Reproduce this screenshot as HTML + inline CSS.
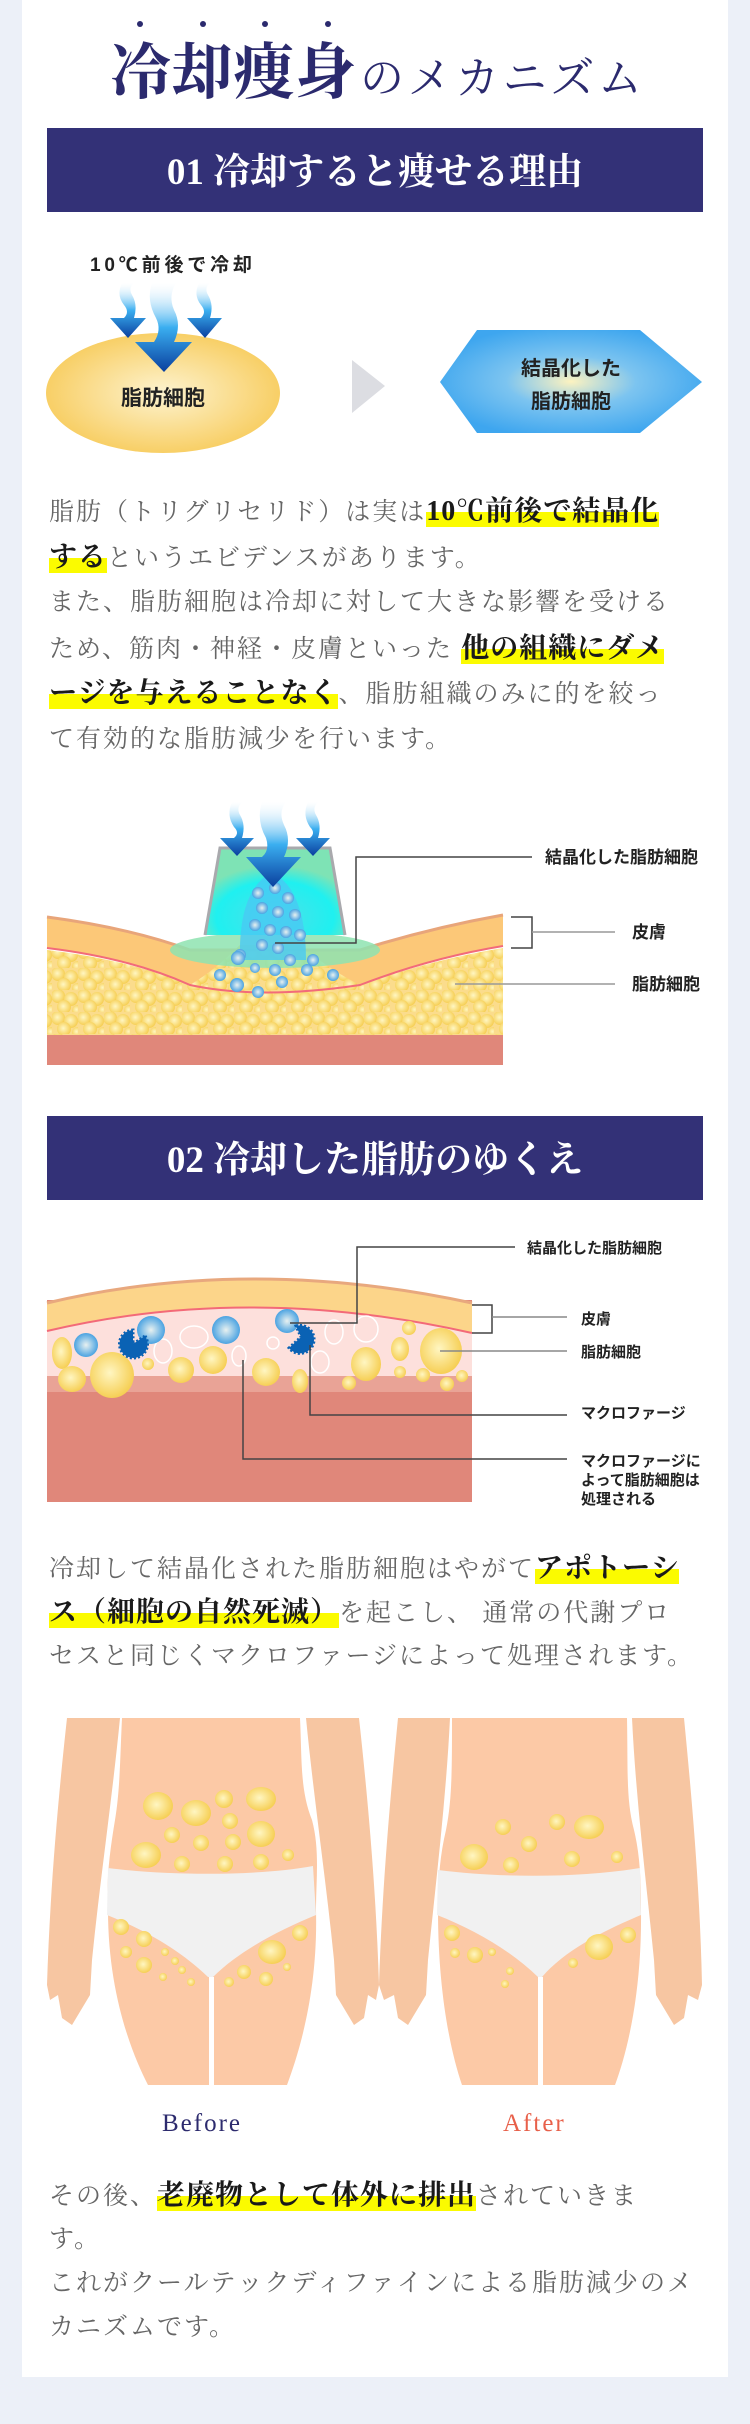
<!DOCTYPE html>
<html><head><meta charset="utf-8">
<style>
*{margin:0;padding:0;box-sizing:border-box}
html,body{width:750px;height:2424px;background:#ecf0f8;overflow:hidden}
#card{position:absolute;left:22px;top:0;width:706px;height:2377px;background:#fff}
svg{position:absolute;left:0;top:0}
.p{position:absolute;left:49px;font-family:"Liberation Serif","Noto Serif CJK JP","Noto Serif CJK SC",serif;color:#666;white-space:nowrap;font-size:25px;letter-spacing:2px}
.p div{height:45.5px;line-height:45.5px}
.h{font-weight:bold;color:#1a1a1a;font-size:28px;letter-spacing:1px;background:linear-gradient(transparent 52%,#fbfb00 52%)}
</style></head><body>
<div id="card"></div>
<svg width="750" height="2424" viewBox="0 0 750 2424" xmlns="http://www.w3.org/2000/svg">
<defs>
<radialGradient id="ell" cx="50%" cy="50%" r="50%"><stop offset="0" stop-color="#fdf3cf"/><stop offset="1" stop-color="#f8cf66"/></radialGradient>
<radialGradient id="hex" cx="50%" cy="50%" r="55%"><stop offset="0" stop-color="#fdf3c0"/><stop offset="0.45" stop-color="#7cc4f0"/><stop offset="1" stop-color="#3ea6ef"/></radialGradient>
<linearGradient id="arr" x1="0" y1="0" x2="0" y2="1"><stop offset="0" stop-color="#ffffff" stop-opacity="0.2"/><stop offset="0.5" stop-color="#3aaef0"/><stop offset="1" stop-color="#0a3f9e"/></linearGradient>
<radialGradient id="yb" cx="45%" cy="45%" r="55%"><stop offset="0" stop-color="#fff6c2"/><stop offset="1" stop-color="#f6cf55"/></radialGradient>
<radialGradient id="bb" cx="50%" cy="50%" r="55%"><stop offset="0" stop-color="#e8f1f0"/><stop offset="1" stop-color="#3b9be0"/></radialGradient>
<pattern id="fat" width="26" height="22" patternUnits="userSpaceOnUse">
<rect width="26" height="22" fill="#fbdc8c"/>
<circle cx="6" cy="6" r="7" fill="url(#yb)"/><circle cx="19" cy="9" r="7" fill="url(#yb)"/><circle cx="12" cy="17" r="7" fill="url(#yb)"/><circle cx="25" cy="20" r="5" fill="url(#yb)"/>
</pattern>
<radialGradient id="cup" cx="50%" cy="80%" r="60%"><stop offset="0" stop-color="#4fe0e8"/><stop offset="0.7" stop-color="#1ff0f0"/><stop offset="1" stop-color="#7ee3b5"/></radialGradient>
</defs>

<!-- Title -->
<g fill="#2b2a6e">
<circle cx="140" cy="24" r="3"/><circle cx="203" cy="24" r="3"/><circle cx="265" cy="24" r="3"/><circle cx="328" cy="24" r="3"/>
</g>
<text x="110" y="93" font-family="'Liberation Serif','Noto Serif CJK JP',serif" font-weight="bold" font-size="61" fill="#2b2a6e" textLength="246">冷却痩身</text>
<text x="360" y="93" font-family="'Liberation Serif','Noto Serif CJK JP',serif" font-size="44" fill="#2b2a6e" textLength="282">のメカニズム</text>

<!-- Band 1 -->
<rect x="47" y="128" width="656" height="84" fill="#333177"/>
<text x="375" y="184" text-anchor="middle" font-family="'Liberation Serif','Noto Serif CJK JP',serif" font-weight="bold" font-size="37" fill="#fff">01 冷却すると痩せる理由</text>

<!-- Diagram 1 -->
<text x="90" y="271" font-family="'Liberation Sans','Noto Sans CJK JP',sans-serif" font-weight="bold" font-size="19" fill="#222" textLength="162">10℃前後で冷却</text>
<ellipse cx="163" cy="393" rx="117" ry="60" fill="url(#ell)"/>
<g fill="url(#arr)">
<path d="M122 283 Q116 295 124 305 Q130 312 124 318 L110 318 L128 338 L146 318 L134 318 Q138 305 132 295 Q128 288 134 283 Z"/>
<path d="M199 283 Q193 295 201 305 Q207 312 201 318 L187 318 L205 338 L222 318 L210 318 Q214 305 208 295 Q204 288 210 283 Z"/>
<path d="M152 283 Q146 300 156 318 Q162 330 154 342 L135 342 L164 372 L192 342 L174 342 Q182 325 174 310 Q168 296 176 283 Z"/>
</g>
<text x="163" y="405" text-anchor="middle" font-family="'Liberation Sans','Noto Sans CJK JP',sans-serif" font-weight="bold" font-size="21" fill="#222">脂肪細胞</text>
<polygon points="352,360 385,386 352,413" fill="#dcdde2"/>
<polygon points="440,382 477,330 640,330 702,382 640,433 477,433" fill="url(#hex)"/>
<text x="571" y="375" text-anchor="middle" font-family="'Liberation Sans','Noto Sans CJK JP',sans-serif" font-weight="bold" font-size="20" fill="#222">結晶化した</text>
<text x="571" y="408" text-anchor="middle" font-family="'Liberation Sans','Noto Sans CJK JP',sans-serif" font-weight="bold" font-size="20" fill="#222">脂肪細胞</text>

<!-- Diagram 2 -->
<rect x="47" y="1000" width="456" height="65" fill="#e0877a"/>
<path d="M47 950 Q130 960 190 985 Q220 965 240 945 L300 945 Q325 965 360 985 Q430 960 503 948 L503 1035 L47 1035 Z" fill="url(#fat)"/>
<path d="M47 917 Q130 928 190 950 L360 950 Q430 928 503 915 L503 946 Q430 958 360 985 Q330 970 300 945 L240 945 Q215 970 190 985 Q130 958 47 948 Z" fill="#fcc878"/>
<path d="M47 917 Q130 928 190 950 L360 950 Q430 928 503 915" fill="none" stroke="#e8a57a" stroke-width="3"/>
<path d="M47 948 Q130 958 190 985 Q260 1000 360 985 Q430 958 503 946" fill="none" stroke="#f26b7a" stroke-width="2"/>
<ellipse cx="275" cy="950" rx="105" ry="18" fill="#8ee3b0" opacity="0.85"/>
<path d="M205 935 L220 848 L330 848 L345 935 Z" fill="url(#cup)"/>
<path d="M205 935 L220 848 L330 848 L345 935" fill="none" stroke="#a9a9ad" stroke-width="3"/>
<path d="M240 960 Q238 890 272 872 Q306 890 306 960 Z" fill="#48c9f4" opacity="0.8"/>
<g fill="url(#bb)">
<circle cx="258" cy="893" r="6"/><circle cx="275" cy="888" r="6"/><circle cx="288" cy="898" r="6"/><circle cx="262" cy="908" r="6"/><circle cx="278" cy="912" r="6"/><circle cx="295" cy="915" r="6"/><circle cx="255" cy="925" r="6"/><circle cx="270" cy="930" r="6"/><circle cx="286" cy="932" r="6"/><circle cx="300" cy="935" r="6"/><circle cx="262" cy="945" r="6"/><circle cx="278" cy="948" r="6"/><circle cx="240" cy="955" r="6"/><circle cx="290" cy="960" r="6"/><circle cx="275" cy="970" r="6"/>
<circle cx="238" cy="958" r="7"/><circle cx="220" cy="975" r="6"/><circle cx="237" cy="985" r="7"/><circle cx="258" cy="992" r="6"/><circle cx="282" cy="982" r="6"/><circle cx="307" cy="970" r="6"/><circle cx="313" cy="960" r="6"/><circle cx="333" cy="975" r="6"/><circle cx="255" cy="968" r="5"/>
</g>
<g fill="url(#arr)">
<path d="M232 802 Q226 815 234 827 Q240 833 234 838 L220 838 L237 856 L254 838 L242 838 Q246 825 240 815 Q236 808 242 802 Z"/>
<path d="M308 802 Q302 815 310 827 Q316 833 310 838 L296 838 L313 856 L330 838 L318 838 Q322 825 316 815 Q312 808 318 802 Z"/>
<path d="M262 802 Q256 820 266 838 Q270 850 262 857 L246 857 L273 887 L301 857 L284 857 Q292 840 284 825 Q278 812 286 802 Z"/>
</g>
<g stroke="#444" stroke-width="1.5" fill="none">
<path d="M532 857 L356 857 L356 943 L275 943"/>
<path d="M511 917 L532 917 L532 948 L511 948"/>
</g>
<g stroke="#999" stroke-width="1.5"><line x1="532" y1="932" x2="615" y2="932"/><line x1="455" y1="984" x2="615" y2="984"/></g>
<g font-family="'Liberation Sans','Noto Sans CJK JP',sans-serif" font-weight="bold" font-size="17" fill="#222">
<text x="545" y="863">結晶化した脂肪細胞</text>
<text x="632" y="938">皮膚</text>
<text x="632" y="990">脂肪細胞</text>
</g>

<!-- Band 2 -->
<rect x="47" y="1116" width="656" height="84" fill="#333177"/>
<text x="375" y="1172" text-anchor="middle" font-family="'Liberation Serif','Noto Serif CJK JP',serif" font-weight="bold" font-size="37" fill="#fff">02 冷却した脂肪のゆくえ</text>

<!-- Diagram 3 -->
<rect x="47" y="1300" width="425" height="202" fill="#e0877a"/>
<rect x="47" y="1376" width="425" height="16" fill="#e9a396"/>
<path d="M47 1303 Q250 1255 472 1303 L472 1376 L47 1376 Z" fill="#fde0dc"/>
<path d="M47 1303 Q250 1255 472 1303 L472 1333 Q250 1283 47 1331 Z" fill="#fcd58a"/>
<path d="M47 1303 Q250 1255 472 1303" fill="none" stroke="#e8a87e" stroke-width="3"/>
<path d="M47 1331 Q250 1283 472 1333" fill="none" stroke="#f36a78" stroke-width="2"/>
<g fill="url(#yb)">
<ellipse cx="62" cy="1353" rx="10" ry="16"/><ellipse cx="112" cy="1375" rx="22" ry="23"/><ellipse cx="72" cy="1379" rx="14" ry="13"/><circle cx="181" cy="1370" r="13"/><circle cx="213" cy="1360" r="14"/><circle cx="266" cy="1372" r="14"/><ellipse cx="300" cy="1381" rx="8" ry="12"/><ellipse cx="366" cy="1364" rx="15" ry="17"/><ellipse cx="400" cy="1349" rx="9" ry="12"/><ellipse cx="441" cy="1351" rx="21" ry="23"/><circle cx="409" cy="1328" r="7"/><circle cx="400" cy="1372" r="6"/><circle cx="423" cy="1375" r="7"/><circle cx="447" cy="1384" r="7"/><circle cx="462" cy="1376" r="6"/><circle cx="349" cy="1383" r="7"/><circle cx="148" cy="1364" r="6"/>
</g>
<g fill="none" stroke="#fff" stroke-width="1.5">
<ellipse cx="163" cy="1351" rx="9" ry="12"/><ellipse cx="194" cy="1337" rx="14" ry="11"/><ellipse cx="239" cy="1356" rx="7" ry="10"/><circle cx="273" cy="1343" r="6"/><ellipse cx="320" cy="1362" rx="9" ry="11"/><ellipse cx="334" cy="1332" rx="9" ry="12"/><ellipse cx="366" cy="1329" rx="12" ry="13"/>
</g>
<g fill="url(#bb)"><circle cx="86" cy="1345" r="12"/><circle cx="151" cy="1330" r="14"/><circle cx="226" cy="1330" r="14"/><circle cx="287" cy="1321" r="12"/></g>
<g fill="#0a62b4" stroke="#0a62b4" stroke-width="3" stroke-dasharray="2 2">
<path d="M145 1336 A14 14 0 1 1 133 1330 L133 1344 Z"/>
<path d="M296 1326 A14 14 0 1 1 289 1348 L301 1337 Z"/>
</g>
<g stroke="#444" stroke-width="1.5" fill="none">
<path d="M515 1247 L357 1247 L357 1323 L290 1323"/>
<path d="M472 1305 L492 1305 L492 1333 L472 1333"/>
<path d="M310 1345 L310 1415 L567 1415"/>
<path d="M243 1360 L243 1459 L567 1459"/>
</g>
<g stroke="#888" stroke-width="1.5"><line x1="492" y1="1317" x2="567" y2="1317"/><line x1="440" y1="1351" x2="567" y2="1351"/></g>
<g font-family="'Liberation Sans','Noto Sans CJK JP',sans-serif" font-weight="bold" font-size="15" fill="#222">
<text x="527" y="1253">結晶化した脂肪細胞</text>
<text x="581" y="1324">皮膚</text>
<text x="581" y="1357">脂肪細胞</text>
<text x="581" y="1418">マクロファージ</text>
<text x="581" y="1466">マクロファージに</text>
<text x="581" y="1485">よって脂肪細胞は</text>
<text x="581" y="1504">処理される</text>
</g>

<!-- Bodies -->
<g id="before">
<path d="M67 1718 L120 1718 C112 1800 100 1880 92 1960 L90 1995 L72 2025 L62 2018 L58 1995 L50 2000 L47 1985 C50 1890 58 1800 67 1718 Z" fill="#f7c6a2"/>
<path d="M359 1718 L306 1718 C314 1800 326 1880 334 1960 L336 1995 L354 2025 L364 2018 L368 1995 L376 2000 L379 1985 C376 1890 368 1800 359 1718 Z" fill="#f7c6a2"/>
<path d="M122 1718 L300 1718 C302 1760 300 1790 312 1820 C320 1850 316 1880 316 1910 C318 1990 300 2050 287 2085 L148 2085 C130 2050 108 1990 108 1910 C106 1880 110 1850 115 1820 C120 1790 120 1760 122 1718 Z" fill="#fcc9a6"/>
<path d="M108 1868 C170 1876 260 1876 313 1866 L316 1915 C280 1930 240 1950 213 1977 L208 1977 C180 1950 145 1930 107 1915 Z" fill="#f1f1f1"/>
<rect x="209" y="1977" width="5" height="108" fill="#fff"/>
</g>
<g fill="url(#yb)">
<ellipse cx="158" cy="1806" rx="15" ry="14"/><ellipse cx="196" cy="1813" rx="15" ry="13"/><circle cx="224" cy="1799" r="9"/><ellipse cx="261" cy="1799" rx="15" ry="12"/><circle cx="230" cy="1821" r="8"/><ellipse cx="261" cy="1834" rx="14" ry="13"/><circle cx="172" cy="1835" r="8"/><circle cx="201" cy="1843" r="8"/><circle cx="233" cy="1842" r="8"/><ellipse cx="146" cy="1855" rx="15" ry="13"/><circle cx="182" cy="1864" r="8"/><circle cx="225" cy="1864" r="8"/><circle cx="261" cy="1862" r="8"/><circle cx="288" cy="1855" r="6"/>
<circle cx="121" cy="1927" r="8"/><circle cx="144" cy="1939" r="8"/><circle cx="126" cy="1952" r="6"/><circle cx="144" cy="1965" r="8"/><ellipse cx="272" cy="1952" rx="14" ry="12"/><circle cx="300" cy="1933" r="8"/><circle cx="244" cy="1972" r="7"/><circle cx="266" cy="1979" r="7"/><circle cx="165" cy="1952" r="4"/><circle cx="175" cy="1961" r="4"/><circle cx="182" cy="1970" r="4"/><circle cx="163" cy="1977" r="4"/><circle cx="191" cy="1982" r="4"/><circle cx="229" cy="1982" r="5"/><circle cx="287" cy="1967" r="4"/>
</g>
<g>
<path d="M398 1718 L450 1718 C446 1800 436 1880 428 1960 L426 1995 L408 2025 L398 2018 L394 1995 L384 2000 L379 1985 C382 1890 390 1800 398 1718 Z" fill="#f7c6a2"/>
<path d="M684 1718 L632 1718 C636 1800 646 1880 654 1960 L656 1995 L674 2025 L684 2018 L688 1995 L698 2000 L702 1985 C700 1890 692 1800 684 1718 Z" fill="#f7c6a2"/>
<path d="M452 1718 L627 1718 C628 1770 626 1800 634 1830 C640 1855 641 1880 641 1910 C642 1990 628 2050 615 2085 L462 2085 C450 2050 438 1990 438 1910 C438 1880 440 1855 446 1830 C452 1800 452 1770 452 1718 Z" fill="#fcc9a6"/>
<path d="M438 1870 C500 1878 580 1878 640 1868 L641 1915 C605 1930 565 1950 542 1977 L538 1977 C510 1950 475 1930 437 1915 Z" fill="#f1f1f1"/>
<rect x="538" y="1977" width="5" height="108" fill="#fff"/>
</g>
<g fill="url(#yb)">
<circle cx="503" cy="1827" r="8"/><circle cx="529" cy="1844" r="8"/><circle cx="557" cy="1822" r="8"/><ellipse cx="589" cy="1827" rx="15" ry="12"/><ellipse cx="474" cy="1857" rx="14" ry="13"/><circle cx="511" cy="1865" r="8"/><circle cx="572" cy="1859" r="8"/><circle cx="617" cy="1857" r="6"/>
<circle cx="452" cy="1933" r="8"/><circle cx="475" cy="1955" r="8"/><circle cx="455" cy="1953" r="5"/><circle cx="492" cy="1952" r="4"/><ellipse cx="599" cy="1947" rx="14" ry="13"/><circle cx="628" cy="1935" r="8"/><circle cx="573" cy="1963" r="5"/><circle cx="510" cy="1971" r="4"/><circle cx="505" cy="1984" r="4"/>
</g>
<text x="162" y="2131" font-family="'Liberation Serif',serif" font-size="25" fill="#2d2b6e" letter-spacing="2">Before</text>
<text x="503" y="2131" font-family="'Liberation Serif',serif" font-size="25" fill="#e8604a" letter-spacing="2">After</text>
</svg>

<div class="p" style="top:489px">
<div>脂肪（トリグリセリド）は実は<span class="h">10℃前後で結晶化</span></div>
<div><span class="h">する</span>というエビデンスがあります。</div>
<div>また、脂肪細胞は冷却に対して大きな影響を受ける</div>
<div>ため、筋肉・神経・皮膚といった <span class="h">他の組織にダメ</span></div>
<div><span class="h">ージを与えることなく</span>、脂肪組織のみに的を絞っ</div>
<div>て有効的な脂肪減少を行います。</div>
</div>

<div class="p" style="top:1547px">
<div style="height:44px;line-height:44px">冷却して結晶化された脂肪細胞はやがて<span class="h">アポトーシ</span></div>
<div style="height:44px;line-height:44px"><span class="h">ス（細胞の自然死滅）</span>を起こし、 通常の代謝プロ</div>
<div style="height:44px;line-height:44px">セスと同じくマクロファージによって処理されます。</div>
</div>

<div class="p" style="top:2174px">
<div style="height:44px;line-height:44px">その後、<span class="h">老廃物として体外に排出</span>されていきま</div>
<div style="height:44px;line-height:44px">す。</div>
<div style="height:44px;line-height:44px">これがクールテックディファインによる脂肪減少のメ</div>
<div style="height:44px;line-height:44px">カニズムです。</div>
</div>
</body></html>
